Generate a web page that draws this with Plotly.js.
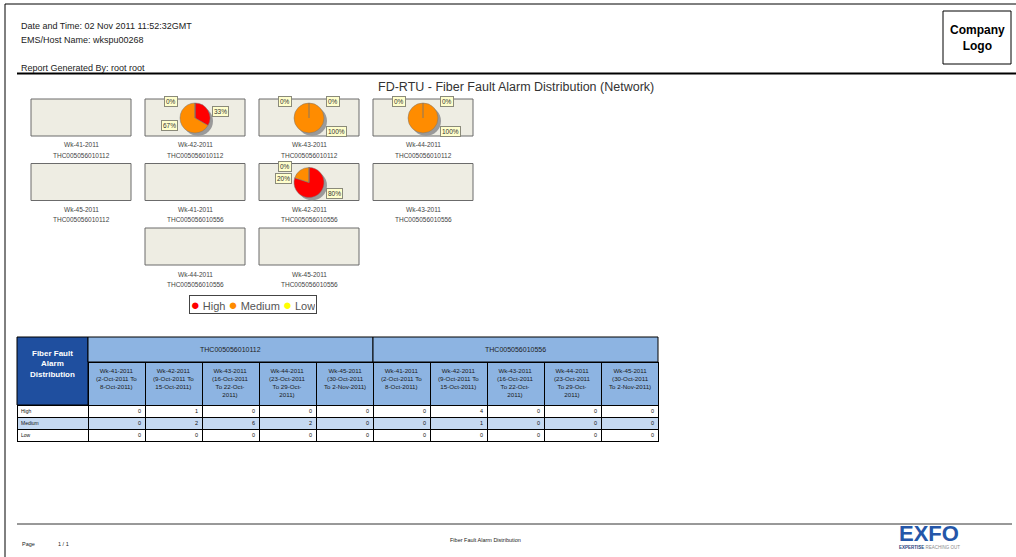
<!DOCTYPE html>
<html>
<head>
<meta charset="utf-8">
<script src="https://cdn.plot.ly/plotly-3.0.1.min.js"></script>
<style>
  html, body { margin: 0; padding: 0; background: #fff; }
  #chart { width: 1016px; height: 557px; }
</style>
</head>
<body>
<div id="chart"></div>
<script>
// data
const weeks = ['Wk-41-2011', 'Wk-42-2011', 'Wk-43-2011', 'Wk-44-2011', 'Wk-45-2011'];
const weekHeaders = [
  'Wk-41-2011<br>(2-Oct-2011 To<br>8-Oct-2011)',
  'Wk-42-2011<br>(9-Oct-2011 To<br>15-Oct-2011)',
  'Wk-43-2011<br>(16-Oct-2011<br>To 22-Oct-<br>2011)',
  'Wk-44-2011<br>(23-Oct-2011<br>To 29-Oct-<br>2011)',
  'Wk-45-2011<br>(30-Oct-2011<br>To 2-Nov-2011)'
];
const hosts = ['THC005056010112', 'THC005056010556'];
const severities = ['High', 'Medium', 'Low'];
const sevColors = ['#FF0000', '#FF8C00', '#FFFF00'];

const high0112 = [0, 1, 0, 0, 0];
const medium0112 = [0, 2, 6, 2, 0];
const low0112 = [0, 0, 0, 0, 0];
const high0556 = [0, 4, 0, 0, 0];
const medium0556 = [0, 1, 0, 0, 0];
const low0556 = [0, 0, 0, 0, 0];

const counts = [[high0112, medium0112, low0112], [high0556, medium0556, low0556]];

// page helpers
const W = 1016, H = 557;
const px = x => x / W;
const py = y => 1 - y / H;
const FONT = 'Arial, "Liberation Sans", sans-serif';

let data = [];
let shapes = [];
let annotations = [];

function text(x, y, t, size, opts) {
  annotations.push(Object.assign({
    x: px(x), y: py(y), xref: 'paper', yref: 'paper', text: t, showarrow: false,
    font: {family: FONT, size: size, color: '#222'}, xanchor: 'left', yanchor: 'middle'
  }, opts || {}));
}
function line(x0, y0, x1, y1, color, width) {
  shapes.push({type: 'line', xref: 'paper', yref: 'paper', x0: px(x0), y0: py(y0), x1: px(x1), y1: py(y1),
    line: {color: color, width: width}});
}
function rect(x0, y0, x1, y1, fill, lineColor, layer) {
  shapes.push({type: 'rect', xref: 'paper', yref: 'paper', x0: px(x0), y0: py(y0), x1: px(x1), y1: py(y1),
    fillcolor: fill, line: {color: lineColor, width: 1}, layer: layer || 'above'});
}

// page frame & header
line(5, 4, W, 4, '#000', 1);
line(5, 4, 5, H, '#000', 1);
line(17, 73.5, W, 73.5, '#000', 2);
line(17, 524, 1012, 524, '#333', 1);

text(19, 26, 'Date and Time: 02 Nov 2011 11:52:32GMT', 9);
text(19, 40, 'EMS/Host Name: wkspu00268', 9);
text(19, 68, 'Report Generated By: root root', 9);

rect(943, 11, 1011, 64, 'rgba(0,0,0,0)', '#000');
text(977, 38, '<b>Company<br>Logo</b>', 12, {xanchor: 'center', font: {family: FONT, size: 12, color: '#000'}});

text(516, 87, 'FD-RTU - Fiber Fault Alarm Distribution (Network)', 12.5,
  {xanchor: 'center', font: {family: FONT, size: 12.5, color: '#333'}});

// footer
text(20, 544, 'Page', 5.5);
text(56, 544, '1 / 1', 5.5);
text(485, 540, 'Fiber Fault Alarm Distribution', 5.5, {xanchor: 'center'});
text(929, 533, '<b>EXFO</b>', 22, {xanchor: 'center', font: {family: FONT, size: 22, color: '#2456A8'}});
text(929, 547, '<b>EXPERTISE</b> <span style="color:#8a8a8a">REACHING OUT</span>', 4.5,
  {xanchor: 'center', font: {family: FONT, size: 4.5, color: '#1d3f7a'}});

// pie grid
const boxW = 100, boxH = 37, gridX0 = 31, stepX = 114, gridY0 = 99, stepY = 64.5, perRow = 4, pieR = 15;
const charts = [];
hosts.forEach((h, hi) => weeks.forEach((w, wi) => {
  charts.push({host: h, week: w, vals: counts[hi].map(s => s[wi])});
}));

charts.forEach((c, i) => {
  const row = Math.floor(i / perRow);
  const col = i % perRow;
  const nInRow = Math.min(perRow, charts.length - row * perRow);
  const x0 = gridX0 + (col + (perRow - nInRow) / 2) * stepX;
  const y0 = gridY0 + row * stepY;
  const cx = x0 + boxW / 2, cy = y0 + 19;

  rect(x0, y0, x0 + boxW, y0 + boxH, '#EEEDE3', '#6b6b6b', 'below');
  text(cx, y0 + 46, c.week, 6.5, {xanchor: 'center', font: {family: FONT, size: 6.5, color: '#444'}});
  text(cx, y0 + 56, c.host, 6.5, {xanchor: 'center', font: {family: FONT, size: 6.5, color: '#444'}});

  const total = c.vals.reduce((a, b) => a + b, 0);
  if (total === 0) return;

  data.push({
    type: 'pie', values: [1], marker: {colors: ['#9a9a9a']}, textinfo: 'none', hoverinfo: 'skip',
    showlegend: false, sort: false,
    domain: {x: [px(cx - pieR + 3), px(cx + pieR + 3)], y: [py(cy + pieR + 3), py(cy - pieR + 3)]}
  });
  data.push({
    type: 'pie', values: c.vals, labels: severities, marker: {colors: sevColors, line: {color: '#777', width: 0.5}},
    textinfo: 'none', hoverinfo: 'skip', showlegend: false, sort: false, direction: 'clockwise', rotation: 0,
    domain: {x: [px(cx - pieR), px(cx + pieR)], y: [py(cy + pieR), py(cy - pieR)]}
  });

  // percentage callouts
  let cum = 0, zeros = 0;
  const labs = [];
  c.vals.forEach(v => {
    const mid = (cum + v / 2) / total * 2 * Math.PI;
    cum += v;
    const pct = Math.round(v / total * 100) + '%';
    let side, y;
    if (v === 0) {
      side = zeros === 0 ? 'left' : 'right';
      zeros++;
      y = cy - 16;
    } else {
      side = Math.sin(mid) >= -1e-9 ? 'right' : 'left';
      y = cy - Math.cos(mid) * 14;
    }
    labs.push({side, y, pct});
  });
  ['left', 'right'].forEach(sd => {
    const group = labs.filter(l => l.side === sd).sort((a, b) => a.y - b.y);
    for (let k = 1; k < group.length; k++) {
      if (group[k].y < group[k - 1].y + 12) group[k].y = group[k - 1].y + 12;
    }
  });
  labs.forEach(l => {
    const y = Math.max(y0 + 3, Math.min(y0 + boxH - 4, l.y));
    text(l.side === 'right' ? cx + 17 : cx - 17, y, l.pct, 6.5, {
      xanchor: l.side === 'right' ? 'left' : 'right',
      font: {family: FONT, size: 6.5, color: '#333'},
      bgcolor: '#FFFFCC', bordercolor: '#8a8a7a', borderwidth: 1, borderpad: 1
    });
  });
});

// legend
annotations.push({
  x: px(253), y: py(304.5), xref: 'paper', yref: 'paper', showarrow: false,
  xanchor: 'center', yanchor: 'middle',
  text: severities.map((s, k) => '<span style="color:' + sevColors[k] + ';font-size:15px">●</span> ' + s).join(' '),
  font: {family: FONT, size: 11, color: '#555'}, width: 124, height: 15,
  bgcolor: '#fff', bordercolor: '#444', borderwidth: 1, borderpad: 1
});

// table
const tblX0 = 17, tblX1 = 658, firstW = 71, topY = 337, groupH = 25, subH = 43, rowH = 12;
const nCols = hosts.length * weeks.length;
const colW = (tblX1 - tblX0 - firstW) / nCols;
const lightBlue = '#8DB4E2', darkBlue = '#1F4F9F', rowBlue = '#C5D9F1';

const headerVals = [];
const cellVals = [severities];
hosts.forEach((h, hi) => weeks.forEach((w, wi) => {
  headerVals.push(weekHeaders[wi]);
  cellVals.push(counts[hi].map(s => s[wi]));
}));

data.push({
  type: 'table',
  domain: {x: [px(tblX0), px(tblX1)], y: [py(topY + groupH + subH + 3 * rowH + 8), py(topY + groupH)]},
  columnwidth: [firstW].concat(new Array(nCols).fill(colW)),
  header: {
    values: new Array(nCols + 1).fill(''), height: subH,
    fill: {color: [darkBlue].concat(new Array(nCols).fill(lightBlue))},
    line: {color: '#000', width: 1}
  },
  cells: {
    values: cellVals.map(col => col.map(() => '')), height: rowH,
    fill: {color: cellVals.map(() => ['#fff', rowBlue, '#fff'])},
    line: {color: '#000', width: 1}
  }
});

// header texts (centered line by line) and cell values
headerVals.forEach((t, k) => {
  const cx = tblX0 + firstW + (k + 0.5) * colW;
  text(cx, topY + groupH + 3, t, 6.2, {xanchor: 'center', yanchor: 'top', align: 'center',
    font: {family: FONT, size: 6.2, color: '#1a1a1a'}});
});
cellVals.forEach((col, k) => {
  col.forEach((v, r) => {
    const yc = topY + groupH + subH + (r + 0.5) * rowH;
    if (k === 0) {
      text(tblX0 + 2, yc, v, 5, {font: {family: FONT, size: 5, color: '#111'}});
    } else {
      text(tblX0 + firstW + k * colW - 2, yc, String(v), 5.5, {xanchor: 'right',
        font: {family: FONT, size: 5.5, color: '#111'}});
    }
  });
});

// merged header cells
rect(tblX0, topY, tblX0 + firstW, topY + groupH + subH, darkBlue, '#000');
text(tblX0 + firstW / 2, topY + 27, '<b>Fiber Fault<br>Alarm<br>Distribution</b>', 8,
  {xanchor: 'center', font: {family: FONT, size: 8, color: '#fff'}});
hosts.forEach((h, hi) => {
  const gx0 = tblX0 + firstW + hi * weeks.length * colW;
  const gx1 = gx0 + weeks.length * colW;
  rect(gx0, topY, gx1, topY + groupH, lightBlue, '#000');
  text((gx0 + gx1) / 2, topY + groupH / 2, h, 7, {xanchor: 'center', font: {family: FONT, size: 7, color: '#222'}});
});

const layout = {
  width: W, height: H, autosize: false,
  margin: {l: 0, r: 0, t: 0, b: 0},
  paper_bgcolor: '#fff', plot_bgcolor: '#fff',
  showlegend: false,
  shapes: shapes,
  annotations: annotations
};

Plotly.newPlot('chart', data, layout, {displayModeBar: false, staticPlot: true});
</script>
</body>
</html>
